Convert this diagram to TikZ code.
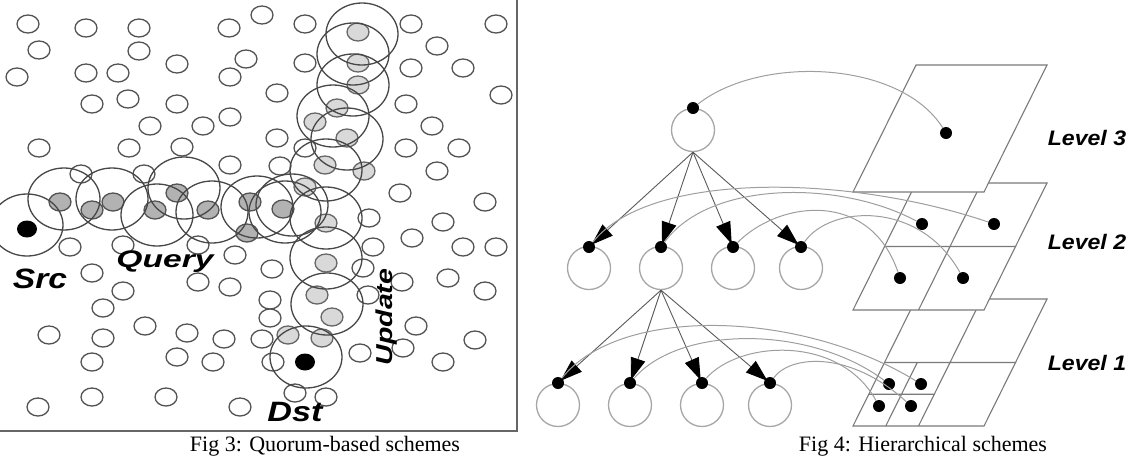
\documentclass[tikz,border=0pt]{standalone}
\usepackage{fontspec}
\setmainfont{Liberation Serif}
\newfontfamily\labfont{Liberation Sans}
\usetikzlibrary{arrows.meta}
\begin{document}
\begin{tikzpicture}[x=1pt,y=-1pt,
  sc/.style={draw=black!68, line width=1.3pt, fill=white},
  gq/.style={draw=black!68, line width=1.3pt, fill=black!30},
  gu/.style={draw=black!60, line width=1.3pt, fill=black!15},
  bigc/.style={draw=black!72, line width=1.3pt},
  blk/.style={fill=black},
  lbl/.style={font=\labfont\bfseries\itshape, inner sep=0pt},
  tnode/.style={circle, draw=black!35, line width=1.3pt, minimum size=43pt, inner sep=0pt},
  dotn/.style={circle, fill=black, minimum size=12pt, inner sep=0pt},
  arr/.style={draw=black!65, line width=0.9pt, arrows={-Triangle[length=22pt, width=15pt, color=black]}, shorten >=-3pt},
  cur/.style={draw=black!38, line width=1pt},
  plane/.style={draw=black!52, line width=1.1pt, fill=white},
  pline/.style={draw=black!52, line width=1.1pt},
  caption/.style={font=\fontsize{22}{26}\selectfont, anchor=base, inner sep=0pt},
  levlbl/.style={font=\labfont\bfseries\itshape\fontsize{21}{25}\selectfont, inner sep=0pt}]
\useasboundingbox (0,0) rectangle (1143,456);

% ---------------- Fig 3 ----------------
\foreach \x/\y in {28/24,86/28,139/28,229/28,262/15,39/50,139/51,246/59,177/64,17/77,86/73,118/73,230/77,277/93,92/104,128/99,177/104,230/117,150/126,203/126,39/148,129/148,182/147,230/165,277/138,280/166,81/174,144/174,
305/24,411/24,496/24,437/46,463/68,411/68,305/63,501/95,406/104,432/126,406/148,459/148,305/148,437/171,400/193,485/202,369/218,443/222,
70/247,123/245,198/245,235/255,272/269,92/273,123/291,198/282,230/287,270/300,270/318,103/308,49/335,103/338,145/326,187/333,224/339,262/339,92/362,177/357,213/362,273/362,38/407,92/397,166/397,240/407,
412/238,463/247,496/247,373/247,448/278,485/291,402/282,416/326,475/340,443/362,403/348,360/353,368/295,363/268,295/393,326/397}
  \draw[sc] (\x,\y) ellipse [x radius=11, y radius=9];

\foreach \x/\y in {60/202,92/210,113/202,155/210,177/193,208/210,250/202,283/209,247/233}
  \draw[gq] (\x,\y) ellipse [x radius=11, y radius=9];
\foreach \x/\y in {358/32,358/63,358/85,337/108,315/122,347/138,325/165,364/171,305/187,326/223,326/263,317/295,332/317,288/335,322/338}
  \draw[gu] (\x,\y) ellipse [x radius=11, y radius=9];

\fill[blk] (27,229) ellipse [x radius=10, y radius=8.5];
\fill[blk] (305,362) ellipse [x radius=10, y radius=8.5];

\foreach \x/\y in {27/225,64/199,112/199,157/215,184/188,212/212,257/207,285/212,
362/34,353/54,353/85,333/116,347/139,326/170,292/205,326/218,326/258,327/304,306/357}
  \draw[bigc] (\x,\y) ellipse [x radius=36, y radius=31];

\node[lbl, font=\labfont\bfseries\itshape\fontsize{28}{32}\selectfont] (src) at (40,279) {\scalebox{1.2}[1]{Src}};
\node[lbl, font=\labfont\bfseries\itshape\fontsize{24}{28}\selectfont] (query) at (165,262) {\scalebox{1.4}[1]{Query}};
\node[lbl, font=\labfont\bfseries\itshape\fontsize{28}{32}\selectfont] (dst) at (295,412) {\scalebox{1.22}[1]{Dst}};
\node[lbl, font=\labfont\bfseries\itshape\fontsize{23}{27}\selectfont, rotate=90] (update) at (387,317) {\scalebox{1.24}[1]{Update}};

\draw[line width=1.8pt, black!60] (517,0) -- (517,431) -- (0,431);

\node[caption] (cap3) at (325,451) {Fig 3: Quorum-based schemes};

% ---------------- Fig 4 ----------------
% planes
\begin{scope}[shift={(916pt,-299pt)}, x={(131pt,0pt)}, y={(-63pt,-127pt)}]
  \draw[plane] (0,0) -- (1,0) -- (1,1) -- (0,1) -- cycle;
  \draw[pline] (0.5,0) -- (0.5,1) (0,0.5) -- (1,0.5) (0.25,0.5) -- (0.25,1) (0,0.75) -- (0.5,0.75);
\end{scope}
\begin{scope}[shift={(916pt,-183pt)}, x={(131pt,0pt)}, y={(-63pt,-127pt)}]
  \draw[plane] (0,0) -- (1,0) -- (1,1) -- (0,1) -- cycle;
  \draw[pline] (0.5,0) -- (0.5,1) (0,0.5) -- (1,0.5);
\end{scope}
\begin{scope}[shift={(916pt,-65pt)}, x={(131pt,0pt)}, y={(-63pt,-127pt)}]
  \draw[plane] (0,0) -- (1,0) -- (1,1) -- (0,1) -- cycle;
\end{scope}

% tree
\node[tnode] (root) at (693,130) {};
\foreach \i/\x in {1/589,2/661,3/733,4/801} \node[tnode] (m\i) at (\x,268) {};
\foreach \i/\x in {1/558,2/630,3/702,4/770} \node[tnode] (n\i) at (\x,405) {};

\node[dotn] (rd) at (693,108) {};
\foreach \i/\x in {1/589,2/661,3/733,4/801} \node[dotn] (a\i) at (\x,247) {};
\foreach \i/\x in {1/558,2/630,3/702,4/770} \node[dotn] (b\i) at (\x,383) {};

% cell dots
\node[dotn] (c3) at (946,133) {};
\node[dotn] (c2a) at (922,224) {};
\node[dotn] (c2b) at (994,224) {};
\node[dotn] (c2c) at (900,278) {};
\node[dotn] (c2d) at (963,278) {};
\node[dotn] (c1a) at (889,384) {};
\node[dotn] (c1b) at (921,384) {};
\node[dotn] (c1c) at (879,406) {};
\node[dotn] (c1d) at (911,406) {};

% arrows
\foreach \i in {1,2,3,4} \draw[arr] (root.south) -- (a\i);
\foreach \i in {1,2,3,4} \draw[arr] (m2.south) -- (b\i);

% curves
\draw[cur] (rd) .. controls (760,55) and (900,60) .. (c3);
\draw[cur] (a1) .. controls (650,170) and (850,175) .. (c2b);
\draw[cur] (a2) .. controls (710,180) and (840,180) .. (c2a);
\draw[cur] (a3) .. controls (780,200) and (870,190) .. (c2c);
\draw[cur] (a4) .. controls (830,205) and (920,200) .. (c2d);
\draw[cur] (b1) .. controls (620,305) and (800,310) .. (c1b);
\draw[cur] (b2) .. controls (680,325) and (810,325) .. (c1a);
\draw[cur] (b3) .. controls (740,340) and (840,335) .. (c1c);
\draw[cur] (b4) .. controls (790,355) and (850,350) .. (c1d);

\node[levlbl] (lv3) at (1087,138) {\scalebox{1.1}[1]{Level 3}};
\node[levlbl] (lv2) at (1087,242) {\scalebox{1.1}[1]{Level 2}};
\node[levlbl] (lv1) at (1087,363) {\scalebox{1.1}[1]{Level 1}};

\node[caption] (cap4) at (923,451) {Fig 4: Hierarchical schemes};
\end{tikzpicture}
\end{document}
